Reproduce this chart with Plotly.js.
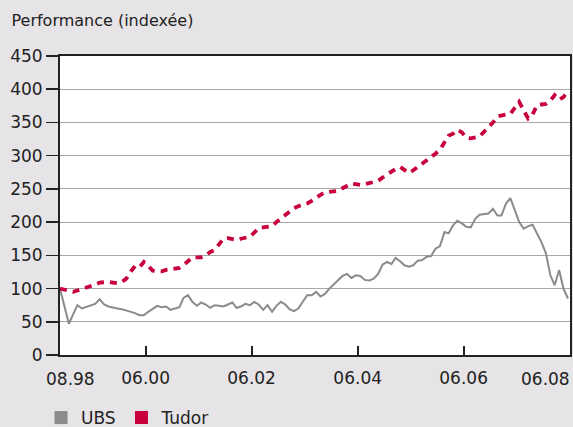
<!DOCTYPE html>
<html>
<head>
<meta charset="utf-8">
<script src="https://cdn.plot.ly/plotly-3.0.1.min.js"></script>
<style>html,body{margin:0;padding:0;background:#e6e4e6;}#chart{width:573px;height:427px;}</style>
</head>
<body>
<div id="chart"></div>
<script>
// Monthly observations, first one shown as "08.98" on the chart
const startYear = 1998, startMonth = 11;
const ubs = [100,72,47,62,75,70,72,75,77,84,76,73,71,70,69,67,65,63,60,60,
  65,70,74,72,73,68,70,72,86,90,80,74,79,76,71,75,74,73,76,79,
  71,73,77,75,80,76,68,75,65,74,80,76,69,66,70,80,90,90,95,88,
  92,100,106,113,119,122,116,120,119,113,112,115,122,136,140,137,146,141,135,133,
  135,142,143,148,149,160,164,185,183,195,202,198,193,192,205,211,212,213,220,210,
  210,228,236,218,200,190,194,196,183,170,153,120,105,128,100,85];
const tudor = [100,98,96,95,97,99,102,103,106,109,110,110,109,108,110,115,125,134,132,140,
  134,127,126,126,128,129,129,131,135,142,147,147,147,150,155,158,166,175,176,174,
  173,175,177,178,184,191,192,193,194,200,205,210,216,221,224,226,228,232,237,241,
  245,246,247,247,251,255,258,257,256,257,259,261,262,267,272,276,280,283,279,274,
  278,283,287,292,298,303,309,320,330,333,339,335,327,326,328,329,336,342,350,359,
  361,362,363,372,381,368,356,362,376,377,378,383,391,384,388,398];
const seriesNames = ['UBS', 'Tudor'];
const tickDates = ['2000-06-13', '2002-06-13', '2004-06-13', '2006-06-13'];
const tickLabels = ['06.00', '06.02', '06.04', '06.06'];
const endLabels = ['08.98', '06.08'];
const yTicks = [0, 50, 100, 150, 200, 250, 300, 350, 400, 450];

function pad(n){return (n<10?'0':'')+n;}
const dates = ubs.map((_, i) => {
  const m = startMonth - 1 + i;
  return (startYear + Math.floor(m / 12)) + '-' + pad(m % 12 + 1) + '-01';
});
const xEnd = '2008-06-15';

const gray = '#8c8a8c', red = '#c8003c';
const font = 'DejaVu Sans, sans-serif';
const txt = {family: font, size: 17, color: '#222222'};

const traces = [
  {x: dates, y: ubs, type: 'scatter', mode: 'lines', name: seriesNames[0],
   line: {color: gray, width: 2}, showlegend: false, hoverinfo: 'skip'},
  {x: dates, y: tudor, type: 'scatter', mode: 'lines', name: seriesNames[1],
   line: {color: red, width: 3.8, dash: '7px,6px'}, showlegend: false, hoverinfo: 'skip'},
  {x: [null], y: [null], type: 'scatter', mode: 'markers', name: seriesNames[0], legend: 'legend',
   marker: {symbol: 'square', size: 13, color: gray}},
  {x: [null], y: [null], type: 'scatter', mode: 'markers', name: seriesNames[1], legend: 'legend2',
   marker: {symbol: 'square', size: 13, color: red}}
];

const legendBase = {orientation: 'h', xref: 'container', yref: 'container', xanchor: 'left', yanchor: 'middle',
  y: 0.021, bgcolor: 'rgba(0,0,0,0)', font: txt};

const layout = {
  width: 573, height: 427,
  paper_bgcolor: '#e6e4e6', plot_bgcolor: '#ffffff',
  margin: {l: 60, r: 3, t: 56, b: 72},
  font: txt,
  title: {text: 'Performance (indexée)', x: 0.02, xanchor: 'left', y: 0.953, yanchor: 'middle',
          font: {family: font, size: 16, color: '#222222'}},
  xaxis: {type: 'date', range: [dates[0], xEnd], tickmode: 'array', tickvals: tickDates, ticktext: tickLabels,
          ticks: 'inside', ticklen: 9, tickwidth: 2, tickcolor: '#222222', ticklabelstandoff: 7,
          showgrid: false, zeroline: false, showline: true, mirror: true, linecolor: '#222222', linewidth: 2,
          tickfont: txt, fixedrange: true},
  yaxis: {range: [0, 450], tickmode: 'array', tickvals: yTicks,
          ticks: 'outside', ticklen: 12, tickwidth: 1.5, tickcolor: '#222222',
          showgrid: true, gridcolor: '#a8a8a8', gridwidth: 1, zeroline: false,
          showline: true, mirror: true, linecolor: '#222222', linewidth: 2,
          tickfont: txt, fixedrange: true},
  showlegend: true,
  legend: Object.assign({}, legendBase, {x: 0.0716}),
  legend2: Object.assign({}, legendBase, {x: 0.212}),
  annotations: [
    {x: dates[0], y: 0, xref: 'x', yref: 'y', text: endLabels[0], showarrow: false,
     xanchor: 'center', yanchor: 'top', xshift: 10, yshift: -12, font: txt},
    {x: xEnd, y: 0, xref: 'x', yref: 'y', text: endLabels[1], showarrow: false,
     xanchor: 'right', yanchor: 'top', xshift: 2, yshift: -12, font: txt}
  ]
};

Plotly.newPlot('chart', traces, layout, {displayModeBar: false, staticPlot: true});
</script>
</body>
</html>
